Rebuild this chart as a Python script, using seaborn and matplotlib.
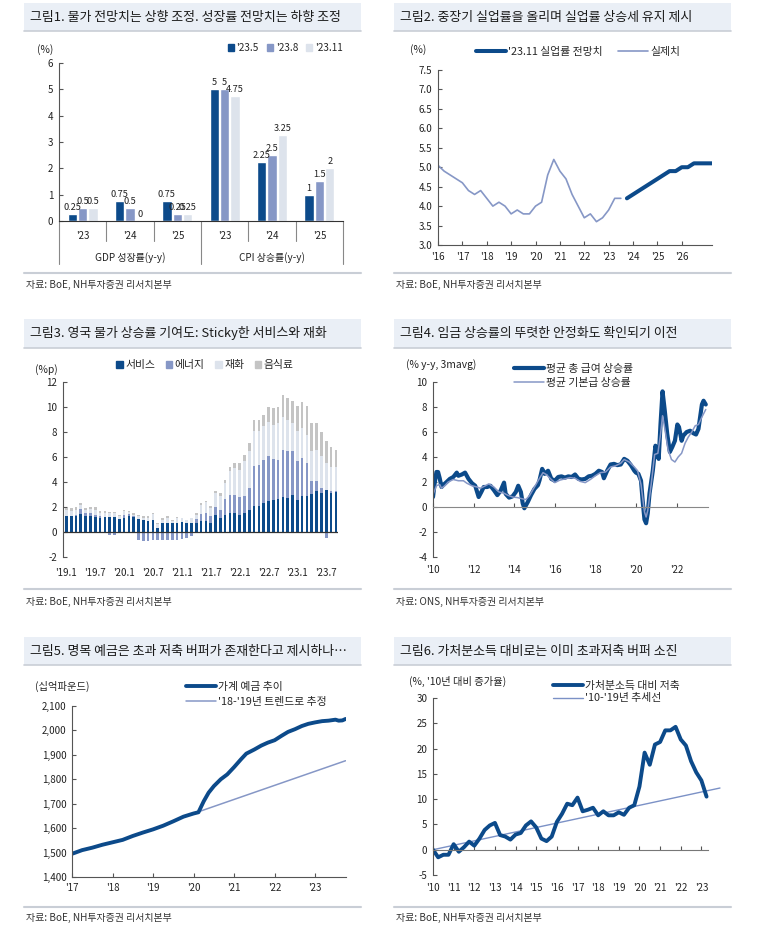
import numpy as np
import pandas as pd
import matplotlib
matplotlib.use('Agg')
import matplotlib.pyplot as plt
import matplotlib.transforms as mtrans
from matplotlib.patches import Rectangle, Patch
from matplotlib.lines import Line2D
import seaborn as sns

# ---------------- data ----------------
# Fig 1: BoE forecasts
f1_groups = ['GDP 성장률(y-y)', 'CPI 상승률(y-y)']
f1_years = ["'23", "'24", "'25"]
f1_series = ["'23.5", "'23.8", "'23.11"]
f1_may = [0.25, 0.75, 0.75, 5, 2.25, 1]
f1_aug = [0.5, 0.5, 0.25, 5, 2.5, 1.5]
f1_nov = [0.5, 0, 0.25, 4.75, 3.25, 2]

# Fig 2: unemployment (quarterly)
f2_actual = [5.05, 4.9, 4.8, 4.7, 4.6, 4.4, 4.3, 4.4, 4.2, 4.0, 4.1, 4.0,
             3.8, 3.9, 3.8, 3.8, 4.0, 4.1, 4.8, 5.2, 4.9, 4.7, 4.3, 4.0,
             3.7, 3.8, 3.6, 3.7, 3.9, 4.2, 4.2]
f2_forecast = [4.2, 4.3, 4.4, 4.5, 4.6, 4.7, 4.8, 4.9, 4.9, 5.0, 5.0, 5.1, 5.1, 5.1, 5.1]
f2_ticks = [2016, 2017, 2018, 2019, 2020, 2021, 2022, 2023, 2024, 2025, 2026]
f2_ticklabels = ["'16", "'17", "'18", "'19", "'20", "'21", "'22", "'23", "'24", "'25", "'26"]

# Fig 3: CPI contributions, monthly 2019.1 - 2023.9
f3_services = [1.25, 1.25, 1.3, 1.45, 1.25, 1.25, 1.2, 1.15, 1.2, 1.2, 1.2, 1.05,
               1.15, 1.25, 1.2, 1.05, 0.95, 0.9, 1.0, 0.3, 0.7, 0.7, 0.7, 0.7,
               0.8, 0.7, 0.7, 0.75, 0.9, 0.9, 0.7, 1.4, 1.1, 1.4, 1.5, 1.5,
               1.4, 1.5, 1.8, 2.1, 2.05, 2.3, 2.5, 2.6, 2.65, 2.8, 2.75, 3.0,
               2.6, 2.85, 2.9, 3.05, 3.25, 3.1, 3.4, 3.15, 3.2]
f3_energy = [0.05, 0.05, 0.1, 0.4, 0.3, 0.25, 0.15, 0.1, -0.05, -0.25, -0.25, -0.05,
             0.25, 0.2, 0.1, -0.6, -0.7, -0.75, -0.65, -0.6, -0.6, -0.6, -0.6, -0.6,
             -0.55, -0.45, -0.3, 0.3, 0.55, 0.6, 0.6, 0.6, 0.7, 1.25, 1.5, 1.5,
             1.4, 1.4, 1.7, 3.2, 3.3, 3.5, 3.55, 3.25, 3.15, 3.8, 3.7, 3.5,
             3.1, 3.1, 2.6, 1.05, 0.85, 0.45, -0.45, 0.15, 0.1]
f3_goods = [0.45, 0.4, 0.4, 0.3, 0.25, 0.35, 0.45, 0.3, 0.3, 0.3, 0.3, 0.2,
            0.3, 0.15, 0.1, 0.2, 0.15, 0.25, 0.45, 0.35, 0.3, 0.45, 0.2, 0.45,
            0.3, 0.25, 0.4, 0.35, 0.75, 0.9, 0.65, 1.1, 1.1, 1.3, 1.9, 2.1,
            2.2, 2.8, 3.0, 2.8, 2.75, 2.65, 2.75, 2.75, 2.9, 2.6, 2.55, 2.2,
            2.4, 2.35, 2.3, 2.4, 2.5, 2.55, 2.1, 1.9, 1.9]
f3_food = [0.2, 0.2, 0.2, 0.15, 0.15, 0.15, 0.2, 0.15, 0.15, 0.1, 0.1, 0.1,
           0.1, 0.1, 0.1, 0.15, 0.15, 0.15, 0.1, 0.1, 0.1, 0.1, 0.05, 0.05,
           0.05, 0.05, 0.05, 0.1, 0.1, 0.1, 0.15, 0.2, 0.2, 0.25, 0.3, 0.4,
           0.5, 0.5, 0.6, 0.9, 0.9, 0.95, 1.2, 1.3, 1.3, 1.8, 1.7, 1.8,
           2.0, 2.1, 2.3, 2.2, 2.1, 1.9, 1.8, 1.6, 1.4]
f3_ticklabels = ["'19.1", "'19.7", "'20.1", "'20.7", "'21.1", "'21.7", "'22.1", "'22.7", "'23.1", "'23.7"]

# Fig 4: wage growth (% y-y, 3m avg)
f4_total_t = [2010.00, 2010.08, 2010.17, 2010.25, 2010.33, 2010.42, 2010.5, 2010.67, 2010.83, 2011.0,
              2011.17, 2011.25, 2011.42, 2011.58, 2011.75, 2011.92, 2012.08, 2012.25, 2012.38, 2012.5,
              2012.67, 2012.83, 2013.0, 2013.17, 2013.33, 2013.5, 2013.58, 2013.75, 2013.92, 2014.08,
              2014.2, 2014.33, 2014.42, 2014.5, 2014.67, 2014.83, 2015.0, 2015.17, 2015.25, 2015.38,
              2015.5, 2015.67, 2015.83, 2016.0, 2016.17, 2016.33, 2016.5, 2016.67, 2016.83, 2017.0,
              2017.17, 2017.33, 2017.5, 2017.67, 2017.83, 2018.0, 2018.17, 2018.33, 2018.42, 2018.58,
              2018.75, 2018.92, 2019.08, 2019.25, 2019.42, 2019.58, 2019.75, 2019.92, 2020.0, 2020.12,
              2020.25, 2020.33, 2020.42, 2020.5, 2020.58, 2020.67, 2020.83, 2020.96, 2021.04, 2021.12,
              2021.21, 2021.31, 2021.42, 2021.54, 2021.67, 2021.79, 2021.92, 2022.04, 2022.12, 2022.25,
              2022.33, 2022.5, 2022.67, 2022.83, 2022.96, 2023.08, 2023.25, 2023.33, 2023.44]
f4_total = [0.8, 1.9, 2.8, 2.8, 2.3, 1.6, 1.75, 2.0, 2.25, 2.4,
            2.75, 2.5, 2.6, 2.75, 2.25, 1.9, 1.7, 0.8, 1.2, 1.6,
            1.6, 1.7, 1.35, 0.95, 1.3, 1.95, 1.05, 0.75, 0.85, 1.2,
            1.7, 1.2, 0.3, -0.1, 0.4, 0.95, 1.45, 1.75, 2.15, 3.05,
            2.65, 2.9, 2.25, 2.1, 2.4, 2.45, 2.35, 2.45, 2.4, 2.6,
            2.25, 2.2, 2.25, 2.45, 2.5, 2.65, 2.9, 2.8, 2.3, 2.9,
            3.4, 3.45, 3.35, 3.4, 3.85, 3.7, 3.35, 2.9, 2.75, 2.65,
            2.1, 0.5, -1.0, -1.3, -0.5, 1.1, 2.9, 4.9, 4.5, 3.85,
            6.6, 9.25, 7.7, 5.85, 4.4, 4.8, 5.3, 6.6, 6.4, 5.3,
            5.7, 6.0, 6.1, 5.9, 5.8, 6.25, 8.2, 8.5, 8.2]
f4_regular_t = [2010.0, 2010.17, 2010.33, 2010.42, 2010.58, 2010.75, 2011.0, 2011.25, 2011.5, 2011.67,
                2011.92, 2012.17, 2012.33, 2012.58, 2012.75, 2013.0, 2013.25, 2013.5, 2013.67, 2013.92,
                2014.17, 2014.42, 2014.58, 2014.75, 2015.0, 2015.25, 2015.42, 2015.58, 2015.83, 2016.0,
                2016.25, 2016.5, 2016.75, 2017.0, 2017.25, 2017.5, 2017.75, 2018.0, 2018.25, 2018.5,
                2018.75, 2019.0, 2019.25, 2019.42, 2019.67, 2019.92, 2020.08, 2020.25, 2020.42, 2020.5,
                2020.58, 2020.75, 2020.92, 2021.08, 2021.21, 2021.31, 2021.42, 2021.58, 2021.75, 2021.92,
                2022.08, 2022.25, 2022.42, 2022.58, 2022.75, 2022.92, 2023.08, 2023.25, 2023.44]
f4_regular = [1.0, 1.7, 1.8, 1.5, 1.7, 2.0, 2.2, 2.1, 2.1, 1.9,
              1.7, 1.6, 1.5, 1.7, 1.85, 1.6, 1.2, 1.1, 0.95, 0.8,
              0.75, 0.65, 0.6, 0.9, 1.6, 2.3, 2.75, 2.6, 2.2, 1.95,
              2.15, 2.25, 2.35, 2.3, 2.05, 1.95, 2.2, 2.5, 2.75, 2.8,
              3.2, 3.3, 3.5, 3.8, 3.6, 3.2, 2.9, 1.8, -0.4, -0.8,
              -0.3, 1.8, 4.2, 4.3, 5.8, 7.3, 6.3, 4.6, 3.8, 3.6,
              4.0, 4.3, 5.1, 5.6, 6.0, 6.5, 6.6, 7.2, 7.8]
f4_ticks = [2010, 2012, 2014, 2016, 2018, 2020, 2022]
f4_ticklabels = ["'10", "'12", "'14", "'16", "'18", "'20", "'22"]

# Fig 5: household deposits (GBP bn)
f5_t = [2017.0, 2017.25, 2017.5, 2017.75, 2018.0, 2018.25, 2018.5, 2018.75, 2019.0, 2019.25,
        2019.5, 2019.75, 2020.0, 2020.12, 2020.25, 2020.37, 2020.5, 2020.67, 2020.83, 2021.0,
        2021.17, 2021.3, 2021.5, 2021.67, 2021.83, 2022.0, 2022.17, 2022.33, 2022.5, 2022.67,
        2022.83, 2023.0, 2023.17, 2023.33, 2023.5, 2023.58, 2023.67, 2023.75]
f5_deposits = [1495, 1510, 1520, 1532, 1542, 1552, 1568, 1582, 1595, 1610,
               1628, 1647, 1660, 1665, 1710, 1745, 1772, 1800, 1820, 1850,
               1882, 1905, 1922, 1938, 1950, 1960, 1978, 1994, 2005, 2018,
               2027, 2033, 2038, 2040, 2044, 2040, 2041, 2047]
f5_trend_t = [2020.0, 2023.75]
f5_trend = [1660, 1876]
f5_ticks = [2017, 2018, 2019, 2020, 2021, 2022, 2023]
f5_ticklabels = ["'17", "'18", "'19", "'20", "'21", "'22", "'23"]

# Fig 6: savings relative to disposable income (quarterly 2010Q1-2023Q2)
f6_savings = [0, -1.5, -1.0, -1.0, 1.1, -0.4, 0.5, 1.6, 0.8, 2.2, 3.9, 4.8, 5.3, 2.9, 2.6, 2.0,
              3.0, 3.3, 4.8, 5.6, 4.4, 2.2, 1.7, 2.6, 5.5, 7.1, 9.1, 8.8, 10.3, 7.6, 7.9, 8.3,
              6.8, 7.6, 6.8, 6.8, 7.4, 6.9, 8.3, 8.8, 12.5, 19.2, 16.8, 20.8, 21.3, 23.6, 23.6, 24.3,
              21.8, 20.6, 17.5, 15.3, 13.7, 10.5]
f6_trend_t = [2010.0, 2023.9]
f6_trend = [0.0, 12.2]
f6_ticks = list(range(2010, 2024))
f6_ticklabels = ["'10", "'11", "'12", "'13", "'14", "'15", "'16", "'17", "'18", "'19", "'20", "'21", "'22", "'23"]

# ---------------- style ----------------
sns.set_theme(style='white')
plt.rcParams['font.family'] = ['Noto Sans CJK KR', 'DejaVu Sans']
plt.rcParams['axes.unicode_minus'] = False

C_DARK = '#0c4a8a'
C_MED = '#8697c6'
C_LIGHT = '#dde3ec'
C_GRAY = '#c4c4c4'
C_TXT = '#222222'
C_AX = '#555555'
TS = 7      # tick font size
LS = 7.8    # legend font size
US = 7.4    # unit label font size

W, H = 775, 938
fig = plt.figure(figsize=(W / 100, H / 100), dpi=100)
fig.patch.set_facecolor('white')


def fx(x):
    return x / W


def fy(y):
    return 1 - y / H


def add_axes(l, t, r, b):
    return fig.add_axes([fx(l), fy(b), (r - l) / W, (b - t) / H])


def style(ax):
    for sp in ['top', 'right']:
        ax.spines[sp].set_visible(False)
    for sp in ['left', 'bottom']:
        ax.spines[sp].set_color(C_AX)
        ax.spines[sp].set_linewidth(0.8)
    ax.set_facecolor('none')
    ax.grid(False)
    ax.tick_params(axis='y', left=True, direction='in', length=3, width=0.8, color=C_AX,
                   labelsize=TS, labelcolor=C_TXT, pad=4)
    ax.tick_params(axis='x', bottom=True, direction='in', length=3, width=0.8, color=C_AX,
                   labelsize=TS, labelcolor=C_TXT)


def panel_frame(x0, x1, ytop, ybot, title, ysep, ysrc, src):
    fig.patches.append(Rectangle((fx(x0), fy(ybot)), (x1 - x0) / W, (ybot - ytop) / H,
                                 transform=fig.transFigure, facecolor='#eaeff6', edgecolor='none'))
    fig.lines.append(Line2D([fx(x0), fx(x1)], [fy(ybot), fy(ybot)], transform=fig.transFigure,
                            color='#c9ced6', lw=1.2))
    fig.text(fx(x0 + 6), fy((ytop + ybot) / 2), title, fontsize=9.3, color='#1a1a1a',
             ha='left', va='center')
    fig.lines.append(Line2D([fx(x0), fx(x1)], [fy(ysep), fy(ysep)], transform=fig.transFigure,
                            color='#c9ced6', lw=1.5))
    fig.text(fx(x0 + 2), fy(ysrc), src, fontsize=7.2, color='#333333', ha='left', va='center')


src_boe = '자료: BoE, NH투자증권 리서치본부'
panel_frame(24, 361, 3, 31, '그림1. 물가 전망치는 상향 조정. 성장률 전망치는 하향 조정', 273, 285, src_boe)
panel_frame(394, 731, 3, 31, '그림2. 중장기 실업률을 올리며 실업률 상승세 유지 제시', 273, 285, src_boe)
panel_frame(24, 361, 319, 348, '그림3. 영국 물가 상승률 기여도: Sticky한 서비스와 재화', 589, 602, src_boe)
panel_frame(394, 731, 319, 348, '그림4. 임금 상승률의 뚜렷한 안정화도 확인되기 이전', 589, 602,
            '자료: ONS, NH투자증권 리서치본부')
panel_frame(24, 361, 637, 665, '그림5. 명목 예금은 초과 저축 버퍼가 존재한다고 제시하나…', 907, 918, src_boe)
panel_frame(394, 731, 637, 665, '그림6. 가처분소득 대비로는 이미 초과저축 버퍼 소진', 907, 918, src_boe)

# ---------------- Fig 1 ----------------
ax1 = add_axes(59, 63, 343, 221)
cat_keys = [f'{g} {y}' for g in f1_groups for y in f1_years]
df1 = pd.DataFrame({
    'cat': cat_keys * 3,
    'series': [f1_series[0]] * 6 + [f1_series[1]] * 6 + [f1_series[2]] * 6,
    'value': f1_may + f1_aug + f1_nov,
})
pal1 = {f1_series[0]: C_DARK, f1_series[1]: C_MED, f1_series[2]: C_LIGHT}
sns.barplot(data=df1, x='cat', y='value', hue='series', order=cat_keys, hue_order=f1_series,
            palette=pal1, width=0.66, gap=0.12, errorbar=None, saturation=1, legend=False, ax=ax1)
style(ax1)
for cont in ax1.containers:
    ax1.bar_label(cont, fmt='%g', fontsize=6.6, color=C_TXT, padding=1.5)
ax1.set_ylim(0, 6)
ax1.set_yticks(range(0, 7))
ax1.set_xlim(-0.5, 5.5)
ax1.set_xticks(range(6))
ax1.set_xticklabels(f1_years * 2)
ax1.tick_params(axis='x', length=0, pad=7)
ax1.set_xlabel('')
ax1.set_ylabel('')
ax1.spines['bottom'].set_color('#333333')
bt = mtrans.blended_transform_factory(ax1.transData, ax1.transAxes)
for i in range(7):
    xb = i - 0.5
    depth = -0.27 if i in (0, 3, 6) else -0.125
    ax1.plot([xb, xb], [0, depth], transform=bt, color='#888888', lw=0.8, clip_on=False)
for gi, g in enumerate(f1_groups):
    ax1.text(gi * 3 + 1, -0.23, g, transform=bt, ha='center', va='center', fontsize=7.2, color=C_TXT)
fig.text(fx(45), fy(50), '(%)', ha='center', va='center', fontsize=US, color=C_TXT)
fig.legend([Patch(color=pal1[s]) for s in f1_series], f1_series, loc='center right',
           bbox_to_anchor=(fx(352), fy(48)), ncol=3, frameon=False, fontsize=7.2,
           handlelength=0.6, handleheight=0.6, handletextpad=0.3, columnspacing=0.8)

# ---------------- Fig 2 ----------------
ax2 = add_axes(438, 70, 712, 245)
t_act = 2016 + 0.25 * np.arange(len(f2_actual))
t_fc = 2023.75 + 0.25 * np.arange(len(f2_forecast))
sns.lineplot(x=t_act, y=f2_actual, ax=ax2, color=C_MED, lw=1.2, sort=False, estimator=None)
sns.lineplot(x=t_fc, y=f2_forecast, ax=ax2, color=C_DARK, lw=2.9, sort=False, estimator=None)
style(ax2)
ax2.set_xlim(2016, 2027.24)
ax2.set_ylim(3.0, 7.5)
ax2.set_yticks(np.arange(3.0, 7.51, 0.5))
ax2.set_yticklabels([f'{v:.1f}' for v in np.arange(3.0, 7.51, 0.5)])
ax2.set_xticks(f2_ticks)
ax2.set_xticklabels(f2_ticklabels)
ax2.tick_params(axis='x', pad=5)
fig.text(fx(418), fy(50), '(%)', ha='center', va='center', fontsize=US, color=C_TXT)
fig.legend([Line2D([], [], color=C_DARK, lw=2.9), Line2D([], [], color=C_MED, lw=1.2)],
           ["'23.11 실업률 전망치", '실제치'], loc='center left', bbox_to_anchor=(fx(466), fy(52)),
           ncol=2, frameon=False, fontsize=LS, handlelength=2.8, handletextpad=0.2, columnspacing=1.4)

# ---------------- Fig 3 ----------------
ax3 = add_axes(63, 382, 338, 557)
idx = np.arange(len(f3_services))
s3 = np.array(f3_services)
e3 = np.array(f3_energy)
g3 = np.array(f3_goods)
fd3 = np.array(f3_food)
pos_e = np.where(e3 > 0, e3, 0)
bw = 0.55
ax3.bar(idx, s3, width=bw, color=C_DARK, lw=0)
ax3.bar(idx, e3, width=bw, bottom=np.where(e3 > 0, s3, 0), color=C_MED, lw=0)
ax3.bar(idx, g3, width=bw, bottom=s3 + pos_e, color=C_LIGHT, lw=0)
ax3.bar(idx, fd3, width=bw, bottom=s3 + pos_e + g3, color=C_GRAY, lw=0)
style(ax3)
ax3.axhline(0, color='#333333', lw=0.9)
ax3.spines['bottom'].set_visible(False)
ax3.set_xlim(-0.7, len(idx) - 0.55)
ax3.set_ylim(-2, 12)
ax3.set_yticks(range(-2, 13, 2))
ax3.set_xticks(idx[::6])
ax3.set_xticklabels(f3_ticklabels)
ax3.tick_params(axis='x', length=0, pad=8)
fig.text(fx(46), fy(370), '(%p)', ha='center', va='center', fontsize=US, color=C_TXT)
fig.legend([Patch(color=c) for c in (C_DARK, C_MED, C_LIGHT, C_GRAY)], ['서비스', '에너지', '재화', '음식료'],
           loc='center', bbox_to_anchor=(fx(205), fy(365)), ncol=4, frameon=False, fontsize=LS,
           handlelength=0.6, handleheight=0.6, handletextpad=0.2, columnspacing=1.0)

# ---------------- Fig 4 ----------------
ax4 = add_axes(433, 382, 708, 557)
sns.lineplot(x=f4_total_t, y=f4_total, ax=ax4, color=C_DARK, lw=3.0, sort=False, estimator=None)
sns.lineplot(x=f4_regular_t, y=f4_regular, ax=ax4, color=C_MED, lw=1.1, sort=False, estimator=None)
style(ax4)
ax4.set_xlim(2010, 2023.55)
ax4.set_ylim(-4, 10)
ax4.set_yticks(range(-4, 11, 2))
ax4.spines['bottom'].set_position(('data', 0))
ax4.spines['bottom'].set_color('#888888')
ax4.set_xticks(f4_ticks)
ax4.tick_params(axis='x', labelbottom=False)
sec4 = ax4.secondary_xaxis('bottom')
sec4.set_xticks(f4_ticks)
sec4.set_xticklabels(f4_ticklabels)
sec4.tick_params(length=0, pad=6, labelsize=TS, labelcolor=C_TXT)
sec4.spines['bottom'].set_visible(False)
fig.text(fx(406), fy(365), '(% y-y, 3mavg)', ha='left', va='center', fontsize=US, color=C_TXT)
fig.legend([Line2D([], [], color=C_DARK, lw=3.0), Line2D([], [], color=C_MED, lw=1.1)],
           ['평균 총 급여 상승률', '평균 기본급 상승률'], loc='upper left',
           bbox_to_anchor=(fx(504), fy(354)), ncol=1, frameon=False, fontsize=LS,
           handlelength=2.8, handletextpad=0.2, labelspacing=0.35)

# ---------------- Fig 5 ----------------
ax5 = add_axes(72, 706, 346, 877)
sns.lineplot(x=f5_trend_t, y=f5_trend, ax=ax5, color=C_MED, lw=1.1, sort=False, estimator=None)
sns.lineplot(x=f5_t, y=f5_deposits, ax=ax5, color=C_DARK, lw=2.8, sort=False, estimator=None)
style(ax5)
ax5.set_xlim(2017, 2023.76)
ax5.set_ylim(1400, 2100)
ax5.set_yticks(range(1400, 2101, 100))
ax5.set_yticklabels([f'{v:,}' for v in range(1400, 2101, 100)])
ax5.set_xticks(f5_ticks)
ax5.set_xticklabels(f5_ticklabels)
ax5.tick_params(axis='x', pad=4)
fig.text(fx(35), fy(686), '(십억파운드)', ha='left', va='center', fontsize=US, color=C_TXT)
fig.legend([Line2D([], [], color=C_DARK, lw=2.8), Line2D([], [], color=C_MED, lw=1.1)],
           ['가계 예금 추이', "'18-'19년 트렌드로 추정"], loc='upper left',
           bbox_to_anchor=(fx(176), fy(672)), ncol=1, frameon=False, fontsize=LS,
           handlelength=2.8, handletextpad=0.2, labelspacing=0.45)

# ---------------- Fig 6 ----------------
ax6 = add_axes(433, 698, 721, 875)
t6 = 2010 + 0.25 * np.arange(len(f6_savings))
sns.lineplot(x=f6_trend_t, y=f6_trend, ax=ax6, color='#7b91c6', lw=1.0, sort=False, estimator=None)
sns.lineplot(x=t6, y=f6_savings, ax=ax6, color=C_DARK, lw=2.8, sort=False, estimator=None)
style(ax6)
ax6.set_xlim(2010, 2023.95)
ax6.set_ylim(-5, 30)
ax6.set_yticks(range(-5, 31, 5))
ax6.spines['bottom'].set_position(('data', 0))
ax6.spines['bottom'].set_bounds(2010, 2023.33)
ax6.spines['bottom'].set_color('#777777')
ax6.set_xticks(f6_ticks)
ax6.tick_params(axis='x', labelbottom=False)
sec6 = ax6.secondary_xaxis('bottom')
sec6.set_xticks(f6_ticks)
sec6.set_xticklabels(f6_ticklabels)
sec6.tick_params(length=0, pad=6, labelsize=TS, labelcolor=C_TXT)
sec6.spines['bottom'].set_visible(False)
fig.text(fx(409), fy(681), "(%, '10년 대비 증가율)", ha='left', va='center', fontsize=US, color=C_TXT)
fig.legend([Line2D([], [], color=C_DARK, lw=2.8), Line2D([], [], color='#7b91c6', lw=1.0)],
           ['가처분소득 대비 저축', "'10-'19년 추세선"], loc='upper left',
           bbox_to_anchor=(fx(543), fy(671)), ncol=1, frameon=False, fontsize=LS,
           handlelength=2.8, handletextpad=0.2, labelspacing=0.25)

for ax in (ax1, ax2, ax3, ax4, ax5, ax6):
    ax.set_xlabel('')
    ax.set_ylabel('')

fig.savefig('out.png', dpi=100)
